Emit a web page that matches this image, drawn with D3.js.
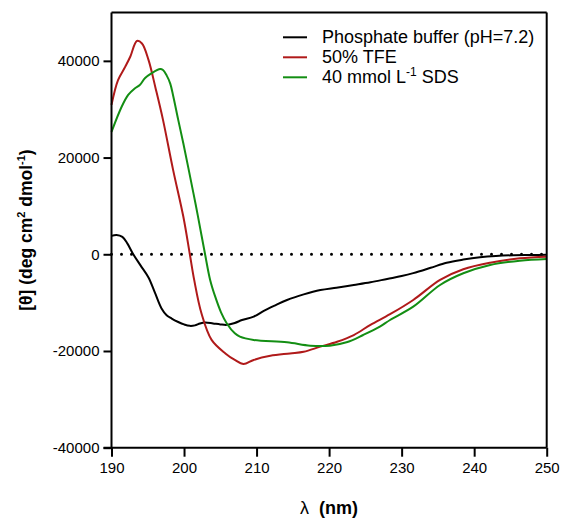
<!DOCTYPE html>
<html>
<head>
<meta charset="utf-8">
<script src="https://cdn.jsdelivr.net/npm/d3@7"></script>
<style>
  body { margin: 0; background: #fff; }
  text { font-family: "Liberation Sans", Arial, sans-serif; }
</style>
</head>
<body>
<div id="chart"></div>
<script>
// CD spectra, wavelength (nm) vs molar ellipticity
const bufferData = [[190,3800],[190.7,4000],[191.5,3600],[192.2,2200],[193,0],[194,-2300],[195.1,-4800],[196,-8000],
  [196.9,-11200],[197.6,-12600],[198.3,-13300],[199.2,-14000],[200,-14500],[200.8,-14800],[201.5,-14700],[202.2,-14300],
  [202.9,-14100],[204,-14300],[205,-14500],[205.9,-14600],[207,-14200],[208,-13600],[209.6,-12900],[211,-11700],
  [212.5,-10600],[214.2,-9450],[216.5,-8300],[218.8,-7400],[221,-6900],[223.4,-6350],[225.7,-5800],[228,-5100],
  [230,-4500],[231.6,-3900],[234,-2800],[236.2,-1750],[238.5,-1100],[240.8,-620],[243,-350],[245.4,-200],[248,-150],[250,-100]];

const tfeData = [[190,30900],[190.9,36000],[191.9,38800],[192.6,40900],[193.5,44100],[194.2,43600],[195.1,40200],
  [196.1,34200],[197.1,27800],[198.5,17400],[199.9,7800],[200.8,0],[201.4,-5300],[202.4,-12200],[203.8,-17700],
  [205.7,-20500],[207,-21850],[208.2,-22700],[209.6,-21850],[211.9,-21000],[214.6,-20500],[216.5,-20150],
  [218.8,-19100],[221.1,-18100],[223.4,-16700],[225.7,-14600],[228.4,-12400],[231.6,-9450],[235.3,-5300],
  [238.5,-3100],[242.2,-1750],[246.3,-830],[250,-500]];

const sdsData = [[190,25300],[191.4,30500],[192.3,32950],[193.2,34300],[193.9,35000],[194.6,36400],[195.5,37400],
  [196.7,38300],[197.1,38100],[197.6,37000],[198.1,35300],[198.5,32800],[199.2,27800],[199.9,22950],[201.3,12600],
  [201.9,8000],[202.9,0],[203.6,-5300],[204.3,-8770],[205.1,-12000],[205.9,-14300],[207,-16340],[207.7,-17040],
  [209.6,-17720],[214.2,-18200],[217.4,-18900],[220.1,-18900],[222.4,-18200],[224.7,-16690],[227,-14970],
  [228.4,-13590],[231.6,-10840],[235.3,-6350],[238.5,-3930],[242.2,-2210],[246.3,-1320],[250,-970]];

const series = [
  { name: 'Phosphate buffer (pH=7.2)', data: bufferData, color: '#000000' },
  { name: '50% TFE', data: tfeData, color: '#B01A1A' },
  { name: '40 mmol L-1 SDS', data: sdsData, color: '#138E13' }
];

const xTicks = [190, 200, 210, 220, 230, 240, 250];
const yTicks = [-40000, -20000, 0, 20000, 40000];

const W = 563, H = 522;
const margin = { top: 12.5, right: 16.3, bottom: 74.3, left: 111.5 };
const width = W - margin.left - margin.right;
const height = H - margin.top - margin.bottom;

const svg = d3.select('#chart')
  .append('svg')
  .attr('width', W)
  .attr('height', H)
  .append('g')
  .attr('transform', `translate(${margin.left}, ${margin.top})`);

const xScale = d3.scaleLinear().domain([190, 250]).range([0, width]);
const yScale = d3.scaleLinear().domain([-40000, 50000]).range([height, 0]);

// zero line, dotted
svg.append('line')
  .attr('x1', xScale(190)).attr('x2', xScale(250))
  .attr('y1', yScale(0)).attr('y2', yScale(0))
  .attr('stroke', '#000')
  .attr('stroke-width', 3)
  .attr('stroke-linecap', 'round')
  .attr('stroke-dasharray', '0,10');

const line = d3.line()
  .x(d => xScale(d[0]))
  .y(d => yScale(d[1]))
  .curve(d3.curveCatmullRom.alpha(0.5));

svg.selectAll('.spectrum')
  .data(series)
  .enter()
  .append('path')
  .attr('class', 'spectrum')
  .attr('d', d => line(d.data))
  .attr('fill', 'none')
  .attr('stroke', d => d.color)
  .attr('stroke-width', 2);

// frame top / right
svg.append('line')
  .attr('x1', 0).attr('x2', width).attr('y1', 0).attr('y2', 0)
  .attr('stroke', '#000').attr('stroke-width', 2);
svg.append('line')
  .attr('x1', width).attr('x2', width).attr('y1', 0).attr('y2', height)
  .attr('stroke', '#000').attr('stroke-width', 2);

const xAxis = d3.axisBottom(xScale).tickValues(xTicks).tickSize(9).tickPadding(6).tickFormat(d3.format('d'));
const yAxis = d3.axisLeft(yScale).tickValues(yTicks).tickSize(8).tickPadding(4).tickFormat(d => d === 0 ? '0' : String(d));

const gx = svg.append('g')
  .attr('transform', `translate(0, ${height})`)
  .call(xAxis);
const gy = svg.append('g').call(yAxis);

[gx, gy].forEach(g => {
  g.select('.domain').attr('stroke', '#000').attr('stroke-width', 2);
  g.selectAll('.tick line').attr('stroke', '#000').attr('stroke-width', 2);
  g.selectAll('.tick text').attr('fill', '#000').style('font-size', '15px')
    .style('font-family', '"Liberation Sans", Arial, sans-serif');
});
gy.select('.domain').attr('d', `M0,0V${height + 0.5}`);
gx.select('.domain').attr('d', `M-8,0H${width}`);

// legend
const legend = svg.append('g').attr('transform', `translate(${283 - margin.left}, ${37.3 - margin.top})`);
series.forEach((s, i) => {
  const row = legend.append('g').attr('transform', `translate(0, ${i * 20})`);
  row.append('line')
    .attr('x1', 0).attr('x2', 24).attr('y1', 0).attr('y2', 0)
    .attr('stroke', s.color).attr('stroke-width', 2);
  const t = row.append('text')
    .attr('x', 39).attr('y', 5.5)
    .style('font-size', '18px')
    .attr('fill', '#000');
  if (i === 2) {
    t.append('tspan').text('40 mmol L');
    t.append('tspan').attr('dy', -7).style('font-size', '12px').text('-1');
    t.append('tspan').attr('dy', 7).text(' SDS');
  } else {
    t.text(s.name);
  }
});

// axis titles
svg.append('text')
  .attr('x', width / 2)
  .attr('y', height + 66)
  .attr('text-anchor', 'middle')
  .style('font-size', '18px')
  .style('font-weight', 'bold')
  .attr('fill', '#000')
  .call(t => {
    t.append('tspan').style('font-weight', 'normal').text('λ');
    t.append('tspan').text('\u00a0\u00a0(nm)');
  });

const yTitle = svg.append('text')
  .attr('transform', `translate(${32 - margin.left}, ${height / 2}) rotate(-90)`)
  .attr('text-anchor', 'middle')
  .style('font-size', '17.5px')
  .style('font-weight', 'bold')
  .attr('fill', '#000');
yTitle.append('tspan').text('[θ] (deg cm');
yTitle.append('tspan').attr('dy', -7).style('font-size', '11px').text('2');
yTitle.append('tspan').attr('dy', 7).text(' dmol');
yTitle.append('tspan').attr('dy', -7).style('font-size', '11px').text('-1');
yTitle.append('tspan').attr('dy', 7).text(')');
</script>
</body>
</html>
